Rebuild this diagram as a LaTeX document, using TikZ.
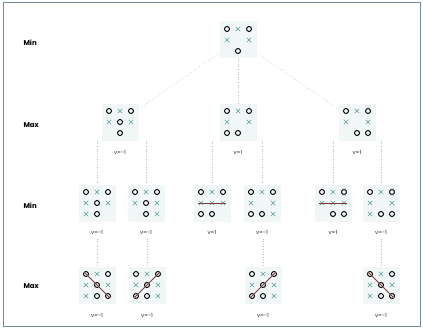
\documentclass[tikz,border=0pt]{standalone}
\usepackage{fontspec}
\setmainfont{Poppins}
\definecolor{boardbg}{HTML}{F0F7F6}
\definecolor{xcol}{HTML}{5E9C98}
\definecolor{wincol}{HTML}{7A3A3A}
\definecolor{framecol}{HTML}{7088A0}
\tikzset{
  board/.style={fill=boardbg, minimum size=37pt, inner sep=0pt},
  omark/.style={draw=black, line width=0.95pt},
  xmark/.style={draw=xcol, line width=0.6pt},
  win/.style={draw=wincol, line width=0.8pt},
  edge/.style={draw=gray!50, dotted, line width=0.6pt},
  lvl/.style={font=\bfseries\fontsize{7}{8}\selectfont, anchor=west},
  val/.style={font=\fontsize{5.5}{6.5}\selectfont, text=black!85},
}
\newcommand{\brd}[4]{%
  \node[board] (#1) at (#2) {};
  \foreach \c/\r in {#3} {\draw[omark,shift={(#1.center)}] (\c*11,\r*11) circle (2.5pt);}
  \foreach \c/\r in {#4} {\draw[xmark,shift={(#1.center)}] (\c*11-2.2,\r*11-2.2) -- (\c*11+2.2,\r*11+2.2) (\c*11-2.2,\r*11+2.2) -- (\c*11+2.2,\r*11-2.2);}
}
\begin{document}
\begin{tikzpicture}[x=1pt,y=-1pt]
\useasboundingbox (0,0) rectangle (423,329);
\draw[framecol, line width=1pt] (3,3) rectangle (420,326);
% level labels
\node[lvl] (l1) at (20,43) {Min};
\node[lvl] (l2) at (20,125) {Max};
\node[lvl] (l3) at (20,206) {Min};
\node[lvl] (l4) at (20,286) {Max};
% root
\brd{root}{238,40}{-1/-1,1/-1,0/1}{0/-1,-1/0,1/0}
% level 2
\brd{A}{120,122}{-1/-1,1/-1,0/1,0/0}{0/-1,-1/0,1/0}
\brd{B}{238,122}{-1/-1,1/-1,0/1,-1/1}{0/-1,-1/0,1/0}
\brd{C}{357,122}{-1/-1,1/-1,0/1,1/1}{0/-1,-1/0,1/0}
\node[val] (vA) at (120,153) {v=-1};
\node[val] (vB) at (238,153) {v=1};
\node[val] (vC) at (357,153) {v=1};
% level 3
\brd{A1}{97,203}{-1/-1,1/-1,0/1,0/0}{0/-1,-1/0,1/0,-1/1}
\brd{A2}{146,203}{-1/-1,1/-1,0/1,0/0}{0/-1,-1/0,1/0,1/1}
\brd{B1}{212,203}{-1/-1,1/-1,0/1,-1/1}{0/-1,-1/0,1/0,0/0}
\brd{B2}{262,203}{-1/-1,1/-1,0/1,-1/1}{0/-1,-1/0,1/0,1/1}
\brd{C1}{333,203}{-1/-1,1/-1,0/1,1/1}{0/-1,-1/0,1/0,0/0}
\brd{C2}{381,203}{-1/-1,1/-1,0/1,1/1}{0/-1,-1/0,1/0,-1/1}
\draw[win,shift={(B1.center)}] (-14,0) -- (14,0);
\draw[win,shift={(C1.center)}] (-14,0) -- (14,0);
\node[val] (vA1) at (97,233) {v=-1};
\node[val] (vA2) at (146,233) {v=-1};
\node[val] (vB1) at (212,233) {v=1};
\node[val] (vB2) at (262,233) {v=-1};
\node[val] (vC1) at (333,233) {v=1};
\node[val] (vC2) at (381,233) {v=-1};
% level 4
\brd{A1a}{97,285}{-1/-1,1/-1,0/1,0/0,1/1}{0/-1,-1/0,1/0,-1/1}
\brd{A2a}{147,285}{-1/-1,1/-1,0/1,0/0,-1/1}{0/-1,-1/0,1/0,1/1}
\brd{B2a}{263,285}{-1/-1,1/-1,0/1,0/0,-1/1}{0/-1,-1/0,1/0,1/1}
\brd{C2a}{381,285}{-1/-1,1/-1,0/1,0/0,1/1}{0/-1,-1/0,1/0,-1/1}
\draw[win,shift={(A1a.center)}] (-13,-13) -- (13,13);
\draw[win,shift={(A2a.center)}] (13,-13) -- (-13,13);
\draw[win,shift={(B2a.center)}] (13,-13) -- (-13,13);
\draw[win,shift={(C2a.center)}] (-13,-13) -- (13,13);
\node[val] (vA1a) at (97,316) {v=-1};
\node[val] (vA2a) at (147,316) {v=-1};
\node[val] (vB2a) at (263,316) {v=-1};
\node[val] (vC2a) at (381,316) {v=-1};
% edges
\draw[edge] (root) -- (A);
\draw[edge] (root) -- (B);
\draw[edge] (root) -- (C);
\foreach \p/\ch in {A/A1,A/A2,B/B1,B/B2,C/C1,C/C2}{\draw[edge] (\ch.north |- \p.south) -- (\ch.north);}
\foreach \p/\ch in {vA1/A1a,vA2/A2a,vB2/B2a,vC2/C2a}{\draw[edge] (\ch.north |- \p.south) -- (\ch.north);}
\end{tikzpicture}
\end{document}
